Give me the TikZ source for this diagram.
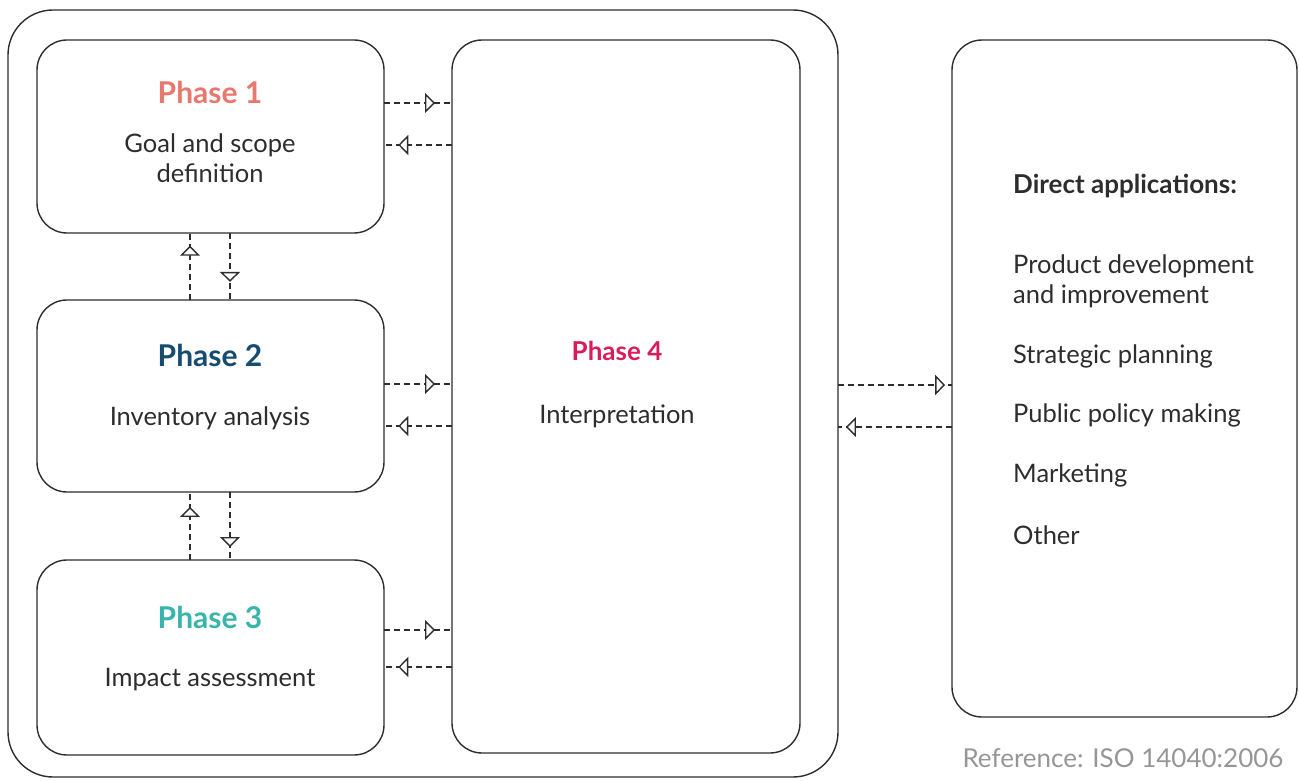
\documentclass[tikz,border=0pt]{standalone}
\usepackage{fontspec}
\setmainfont{Lato}
\usetikzlibrary{arrows.meta,decorations.markings}
\definecolor{ink}{RGB}{45,45,45}
\definecolor{pone}{RGB}{232,120,110}
\definecolor{ptwo}{RGB}{22,76,112}
\definecolor{pthree}{RGB}{56,181,170}
\definecolor{pfour}{RGB}{218,28,92}
\definecolor{refgrey}{RGB}{150,150,150}
\tikzset{
  box/.style={draw=ink, line width=1.4pt, rounded corners=30pt, minimum width=347pt, inner sep=0pt, outer sep=0pt},
  title/.style={font=\fontsize{30}{34}\selectfont\bfseries, inner sep=0pt},
  body/.style={font=\fontsize{25.5}{30}\selectfont, text=ink, align=center, inner sep=0pt},
  apptext/.style={font=\fontsize{25.5}{30}\selectfont, text=ink, anchor=west, inner sep=0pt},
  tipshape/.tip={Triangle[length=10pt,width=20pt,fill=white,line width=1.4pt]},
  flow/.style={draw=ink, line width=1.2pt, dash pattern=on 6pt off 4pt,
    postaction={decorate},
    decoration={markings, mark=at position #1 with {\arrow{tipshape}}}},
}
\begin{document}
\begin{tikzpicture}[x=1pt,y=-1pt]
\useasboundingbox (0,0) rectangle (1299,781);
\node[box, rounded corners=45pt, minimum width=830pt, minimum height=767pt] (outer) at (423,393.5) {};
\node[box, minimum height=193pt] (p1) at (210.5,136.5) {};
\node[box, minimum height=192pt] (p2) at (210.5,396) {};
\node[box, minimum height=195pt] (p3) at (210.5,657.5) {};
\node[box, minimum width=348pt, minimum height=713pt] (p4) at (626,396.5) {};
\node[box, minimum width=345pt, minimum height=677pt] (da) at (1124.5,378.5) {};
% texts
\node[title, text=pone] (t1) at (210,92) {Phase 1};
\node[body] (b1) at (210,158) {Goal and scope\\definition};
\node[title, text=ptwo] (t2) at (210,355) {Phase 2};
\node[body] (b2) at (210,418) {Inventory analysis};
\node[title, text=pthree] (t3) at (210,617) {Phase 3};
\node[body] (b3) at (210,680) {Impact assessment};
\node[title, text=pfour, font=\fontsize{26}{30}\selectfont\bfseries] (t4) at (617,351) {Phase 4};
\node[body] (b4) at (617,416) {Interpretation};
\node[apptext, font=\fontsize{26}{30}\selectfont\bfseries] (dah) at (1013,186) {Direct applications:};
\node[apptext] (a1) at (1013,266) {Product development};
\node[apptext] (a2) at (1013,296) {and improvement};
\node[apptext] (a3) at (1013,356) {Strategic planning};
\node[apptext] (a4) at (1013,415) {Public policy making};
\node[apptext] (a5) at (1013,475) {Marketing};
\node[apptext] (a6) at (1013,535) {Other};
\node[font=\fontsize{26}{30}\selectfont, text=refgrey, inner sep=0pt] (ref) at (1123,758) {Reference: ISO 14040:2006};
% connectors phase -> phase 4
\draw[flow=0.75] (p1.east |- 0,103) -- (p4.west |- 0,103);
\draw[flow=0.79] (p4.west |- 0,145) -- (p1.east |- 0,145);
\draw[flow=0.75] (p2.east |- 0,384) -- (p4.west |- 0,384);
\draw[flow=0.79] (p4.west |- 0,426) -- (p2.east |- 0,426);
\draw[flow=0.75] (p3.east |- 0,630) -- (p4.west |- 0,630);
\draw[flow=0.79] (p4.west |- 0,667) -- (p3.east |- 0,667);
% vertical connectors
\draw[flow=0.81] (p2.north -| 190,0) -- (p1.south -| 190,0);
\draw[flow=0.73] (p1.south -| 230,0) -- (p2.north -| 230,0);
\draw[flow=0.78] (p3.north -| 190,0) -- (p2.south -| 190,0);
\draw[flow=0.81] (p2.south -| 230,0) -- (p3.north -| 230,0);
% outer <-> direct applications
\draw[flow=0.94] (outer.east |- 0,385) -- (da.west |- 0,385);
\draw[flow=0.93] (da.west |- 0,427) -- (outer.east |- 0,427);
\end{tikzpicture}
\end{document}
